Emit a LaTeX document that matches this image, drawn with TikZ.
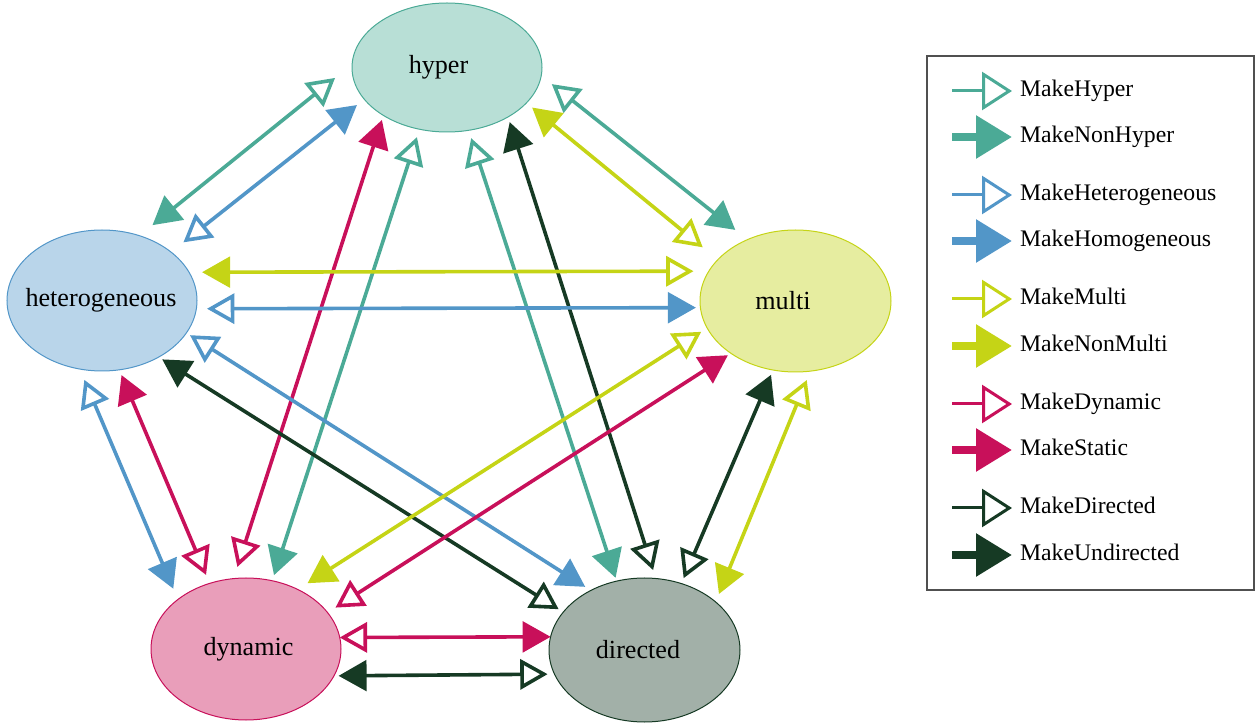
\documentclass[tikz,border=0pt]{standalone}
\usepackage{fontspec}
\setmainfont{Liberation Serif}
\usetikzlibrary{arrows.meta,shapes.geometric}
\definecolor{cH}{RGB}{75,170,150}
\definecolor{fH}{RGB}{184,223,214}
\definecolor{cT}{RGB}{82,150,200}
\definecolor{fT}{RGB}{185,213,234}
\definecolor{cM}{RGB}{197,212,22}
\definecolor{fM}{RGB}{230,237,160}
\definecolor{cD}{RGB}{200,16,90}
\definecolor{fD}{RGB}{233,158,186}
\definecolor{cR}{RGB}{22,58,36}
\definecolor{fR}{RGB}{162,176,168}
\definecolor{legbox}{RGB}{80,80,80}
\tikzset{
  ot/.tip={Triangle[fill=white,length=20.5pt,width=22.5pt]},
  ft/.tip={Triangle[length=21pt,width=23pt]},
  lot/.tip={Triangle[fill=white,length=22.5pt,width=28.5pt]},
  lft/.tip={Triangle[length=27pt,width=31pt]},
  ell/.style={ellipse,draw,line width=0.75pt,inner sep=0pt,outer sep=0pt,
    font=\fontsize{19.6}{23}\selectfont},
  con/.style={line width=2.7pt},
  leg/.style={anchor=west,inner sep=0pt,outer sep=0pt,
    font=\fontsize{17.8}{21}\selectfont,text height=12.5pt,text depth=4.45pt},
  lopen/.style={line width=2.25pt,-lot,shorten >=6pt},
  lfill/.style={line width=6pt,-lft,shorten >=6pt},
}
\begin{document}
\begin{tikzpicture}[x=0.75pt,y=-0.75pt]
\useasboundingbox (0,0) rectangle (1258,723);
% nodes
\node[ell,draw=cH,fill=fH,minimum width=142.5pt,minimum height=96.75pt] (H) at (447,67.5) {\makebox[0pt]{hyper\hspace{12.75pt}}};
\node[ell,draw=cT,fill=fT,minimum width=142.5pt,minimum height=105.75pt] (T) at (102,300.5) {\makebox[0pt]{heterogeneous\hspace{1.5pt}}};
\node[ell,draw=cM,fill=fM,minimum width=143.25pt,minimum height=106.5pt] (M) at (795.5,301) {\makebox[0pt]{multi\hspace{18.75pt}}};
\node[ell,draw=cD,fill=fD,minimum width=142.5pt,minimum height=106.5pt] (D) at (246,649) {\makebox[0pt]{\hspace{3.75pt}dynamic}};
\node[ell,draw=cR,fill=fR,minimum width=143.25pt,minimum height=108pt] (R) at (644.5,650) {\makebox[0pt]{directed\hspace{9.75pt}}};
% connectors
\draw[con,cH,ot-ft,shorten <=16.4pt,shorten >=12.6pt] (H.178.1) -- (T.60.4);
\draw[con,cT,ft-ot,shorten <=7pt,shorten >=11.8pt] (H.201.0) -- (T.35.4);
\draw[con,cH,ot-ft,shorten <=10.1pt,shorten >=11.7pt] (H.355.8) -- (M.128.3);
\draw[con,cM,ft-ot,shorten <=5.5pt,shorten >=14.6pt] (H.336.3) -- (M.152.7);
\draw[con,cD,ft-ot,shorten <=3.6pt,shorten >=9.2pt] (H.217.0) -- (D.100.3);
\draw[con,cH,ot-ft,shorten <=6.2pt,shorten >=4.4pt] (H.246.05) -- (D.69.8);
\draw[con,cH,ot-ft,shorten <=6.2pt,shorten >=2.6pt] (H.289.7) -- (R.112.4);
\draw[con,cR,ft-ot,shorten <=4.1pt,shorten >=6.6pt] (H.321.2) -- (R.81.9);
\draw[con,cM,ft-ot,shorten <=9.8pt,shorten >=11.5pt] (T.18.2) -- (M.161.6);
\draw[con,cT,ot-ft,shorten <=8pt,shorten >=3.4pt] (T.355.2) -- (M.184.5);
\draw[con,cT,ot-ft,shorten <=8.8pt,shorten >=8.8pt] (T.252.55) -- (D.144.3);
\draw[con,cD,ft-ot,shorten <=4.3pt,shorten >=6.9pt] (T.284.4) -- (D.119.1);
\draw[con,cT,ot-ft,shorten <=3.2pt,shorten >=5pt] (T.339.1) -- (R.132.2);
\draw[con,cR,ft-ot,shorten <=3.2pt,shorten >=4.1pt] (T.315.6) -- (R.155.6);
\draw[con,cM,ot-ft,shorten <=5.3pt,shorten >=8.7pt] (M.197.9) -- (D.49.4);
\draw[con,cD,ft-ot,shorten <=2.7pt,shorten >=7pt] (M.219.9) -- (D.24.5);
\draw[con,cR,ft-ot,shorten <=3.9pt,shorten >=4.4pt] (M.252.8) -- (R.61.5);
\draw[con,cM,ot-ft,shorten <=7.2pt,shorten >=6.5pt] (M.282.2) -- (R.34.0);
\draw[con,cD,ot-ft] (D.7.3) -- (R.172.1);
\draw[con,cR,ft-ot,shorten <=3.5pt,shorten >=5.2pt] (D.343.6) -- (R.195.6);
% legend
\draw[line width=1.5pt,draw=legbox] (927,56) rectangle (1254,590);
\coordinate (s1) at (952,91);  \node[leg] (k1) at (1020,91) {MakeHyper};
\coordinate (s2) at (952,137); \node[leg] (k2) at (1020,137) {MakeNonHyper};
\coordinate (s3) at (952,195); \node[leg] (k3) at (1020,195) {MakeHeterogeneous};
\coordinate (s4) at (952,241); \node[leg] (k4) at (1020,241) {MakeHomogeneous};
\coordinate (s5) at (952,299); \node[leg] (k5) at (1020,299) {MakeMulti};
\coordinate (s6) at (952,346); \node[leg] (k6) at (1020,346) {MakeNonMulti};
\coordinate (s7) at (952,404); \node[leg] (k7) at (1020,404) {MakeDynamic};
\coordinate (s8) at (952,450); \node[leg] (k8) at (1020,450) {MakeStatic};
\coordinate (s9) at (952,508); \node[leg] (k9) at (1020,508) {MakeDirected};
\coordinate (s10) at (952,555); \node[leg] (k10) at (1020,555) {MakeUndirected};
\draw[lopen,cH] (s1) -- (k1);
\draw[lfill,cH] (s2) -- (k2);
\draw[lopen,cT] (s3) -- (k3);
\draw[lfill,cT] (s4) -- (k4);
\draw[lopen,cM] (s5) -- (k5);
\draw[lfill,cM] (s6) -- (k6);
\draw[lopen,cD] (s7) -- (k7);
\draw[lfill,cD] (s8) -- (k8);
\draw[lopen,cR] (s9) -- (k9);
\draw[lfill,cR] (s10) -- (k10);
\end{tikzpicture}
\end{document}
